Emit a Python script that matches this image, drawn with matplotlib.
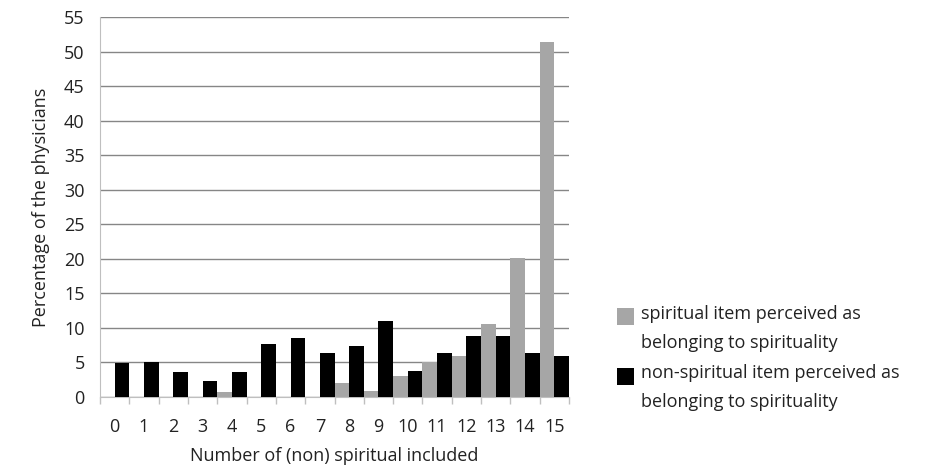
import matplotlib
matplotlib.use("Agg")
import matplotlib.pyplot as plt
import numpy as np
from matplotlib.patches import Rectangle

categories = [str(i) for i in range(16)]
spiritual = [0, 0, 0, 0, 0.7, 0, 0, 0, 2.1, 0.8, 3.0, 5.0, 6.0, 10.6, 20.1, 51.4]
non_spiritual = [4.9, 5.1, 3.6, 2.3, 3.6, 7.7, 8.5, 6.4, 7.4, 11.0, 3.8, 6.4, 8.8, 8.8, 6.4, 6.0]
yticks = list(range(0, 56, 5))
labels = ["spiritual item perceived as\nbelonging to spirituality",
          "non-spiritual item perceived as\nbelonging to spirituality"]
colors = ['#a6a6a6', '#000000']

plt.rcParams['font.family'] = ['Open Sans', 'DejaVu Sans']
FS = 13
TC = '#222222'

fig = plt.figure(figsize=(9.34, 4.68), dpi=100)
ax = fig.add_axes([100/934, 1-397/468, 469/934, (397-17.3)/468])

x = np.arange(len(categories))
w = 0.5
ax.bar(x - w/2, spiritual, width=w, color=colors[0], zorder=2)
ax.bar(x + w/2, non_spiritual, width=w, color=colors[1], zorder=3)

ax.set_xlim(-0.5, len(categories) - 0.5)
ax.set_ylim(0, 55)
ax.set_yticks(yticks)
ax.set_yticklabels([str(v) for v in yticks], fontsize=FS, color=TC)
ax.set_xticks(x)
ax.set_xticklabels(categories, fontsize=FS, color=TC)
ax.set_xticks(np.arange(-0.5, len(categories)), minor=True)
ax.tick_params(axis='x', which='major', length=0, pad=15)
ax.tick_params(axis='x', which='minor', length=5, color='#bfbfbf', width=1)
ax.tick_params(axis='y', length=0, pad=11)

ax.grid(axis='y', color='#868686', linewidth=1, zorder=1)
ax.set_axisbelow(True)
for s in ['top', 'right']:
    ax.spines[s].set_visible(False)
ax.spines['left'].set_color('#bfbfbf')
ax.spines['bottom'].set_color('#bfbfbf')

ax.set_xlabel("Number of (non) spiritual included", fontsize=FS, color=TC, labelpad=8)
ax.set_ylabel("Percentage of the physicians", fontsize=FS, color=TC, labelpad=10)

# manual legend
sq_tops = [308, 368]
text_tops = [305, 364]
for lab, col, st, tt in zip(labels, colors, sq_tops, text_tops):
    fig.patches.append(Rectangle((617/934, 1-(st+17)/468), 17/934, 17/468,
                                 transform=fig.transFigure, facecolor=col, edgecolor='none'))
    fig.text(641/934, 1-tt/468, lab, fontsize=FS, color=TC, va='top', ha='left',
             linespacing=1.78)

fig.savefig("out.png", dpi=100)
